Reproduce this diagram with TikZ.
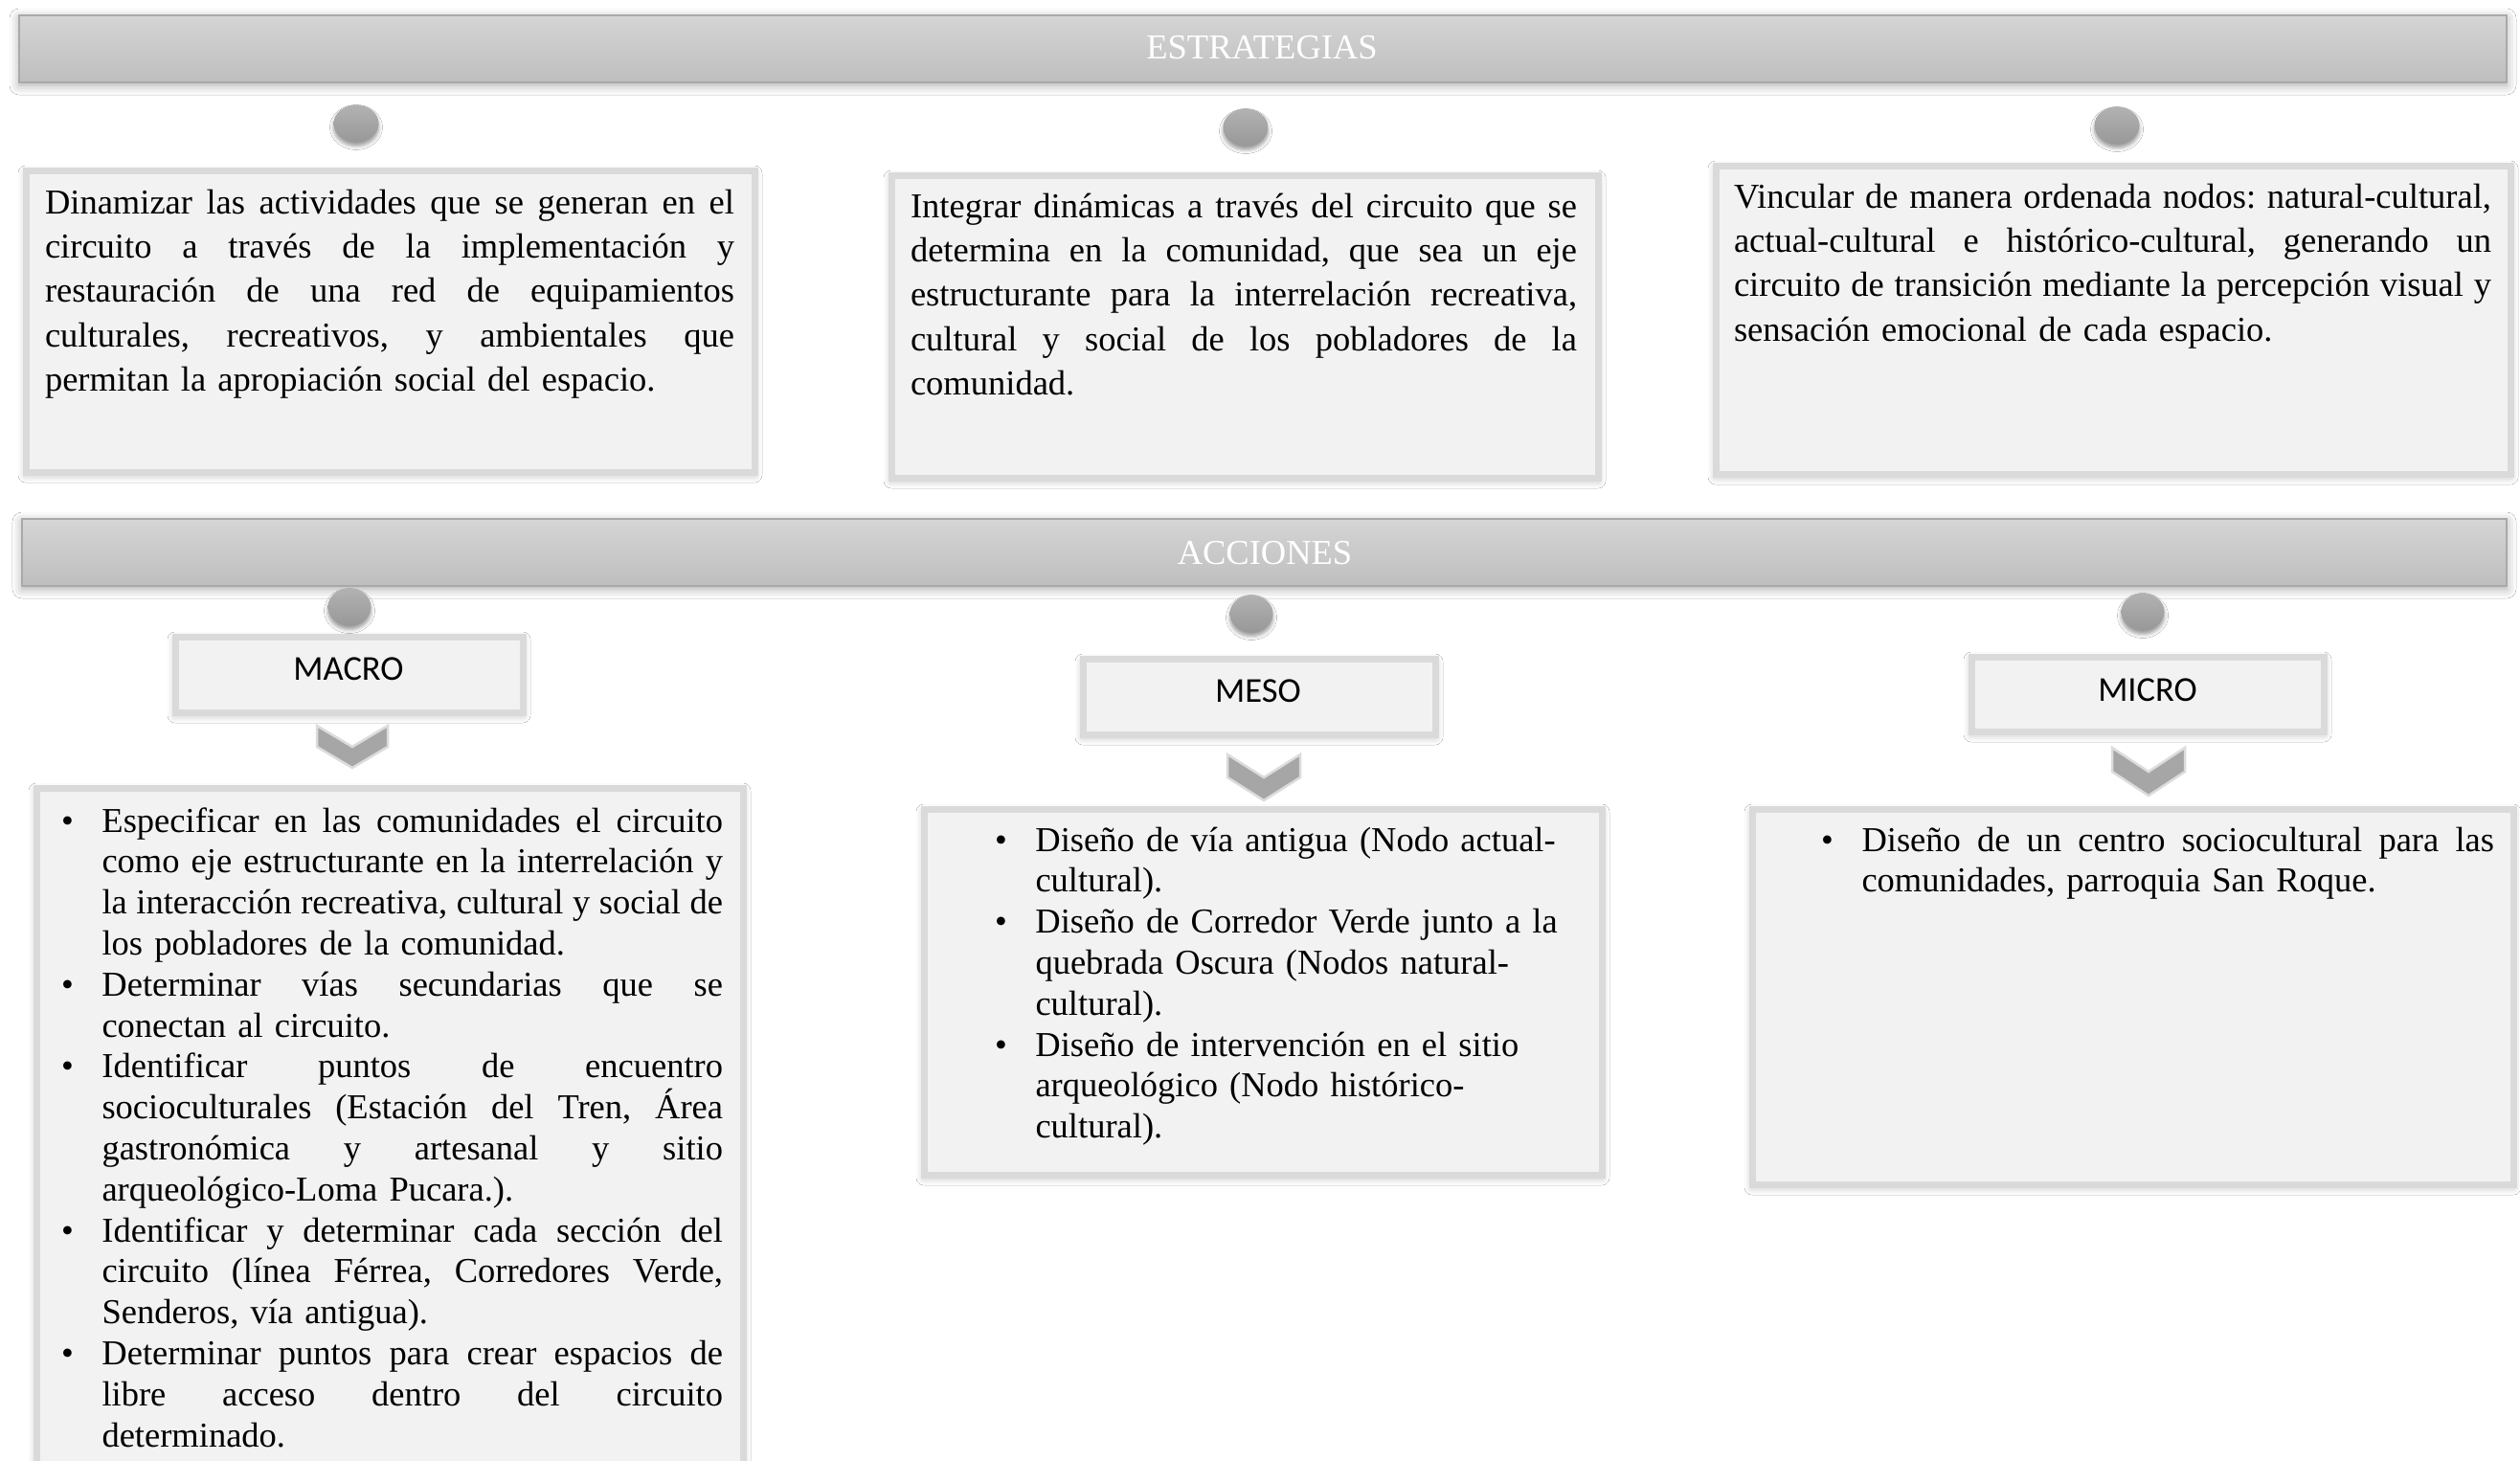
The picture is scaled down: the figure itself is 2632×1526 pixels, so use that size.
\documentclass[tikz,border=0pt]{standalone}
\usepackage{fontspec}
\setmainfont{Liberation Serif}
\newfontfamily\calib{Carlito}
\usetikzlibrary{shapes.geometric,shadows.blur}
\frenchspacing
\definecolor{boxfill}{HTML}{F2F2F2}
\definecolor{boxedge}{HTML}{DADADA}
\definecolor{bartop}{HTML}{D5D5D5}
\definecolor{barbot}{HTML}{BEBEBE}
\definecolor{baredge}{HTML}{A9A9A9}
\definecolor{dottop}{HTML}{B2B2B2}
\definecolor{dotbot}{HTML}{989898}
\definecolor{chevfill}{HTML}{A6A6A6}
\definecolor{chevedge}{HTML}{DCDCDC}
\newlength\bind
\setlength\bind{42.5pt}
\newcommand\sps{\spaceskip=0.25em plus 1em minus 0.12em\relax}
\newcommand\jL[1]{\leavevmode\hbox to \hsize{\sps #1}}
\newcommand\bJ[1]{\leavevmode\hbox to \bind{•\hss}\hbox to \dimexpr\hsize-\bind\relax{\sps #1}}
\newcommand\bR[1]{\leavevmode\hbox to \bind{•\hss}#1}
\newcommand\cJ[1]{\leavevmode\hspace*{\bind}\hbox to \dimexpr\hsize-\bind\relax{\sps #1}}
\newcommand\cR[1]{\leavevmode\hspace*{\bind}#1}
\tikzset{
  bar/.style={rectangle, anchor=north west, inner sep=0, outer sep=0,
    top color=bartop, bottom color=barbot, draw=baredge, line width=2pt,
    blur shadow={shadow xshift=0pt, shadow yshift=-3pt, shadow blur radius=10pt, shadow opacity=35}},
  htext/.style={anchor=base, inner sep=0, text=white, font=\fontsize{36.5}{44}\selectfont},
  sbox/.style={rectangle, anchor=north west, inner sep=0, outer sep=0,
    fill=boxfill, draw=boxedge, line width=7pt,
    blur shadow={shadow xshift=0pt, shadow yshift=-3pt, shadow blur radius=8pt, shadow opacity=30}},
  dot/.style={ellipse, inner sep=0, outer sep=0, minimum width=47pt, minimum height=39pt,
    top color=dottop, bottom color=dotbot,
    blur shadow={shadow xshift=0pt, shadow yshift=-4pt, shadow blur radius=4pt, shadow opacity=40}},
  stext/.style={anchor=base west, inner sep=0, outer sep=0, align=left,
    font=\fontsize{36.5}{46.4}\selectfont},
  ltext/.style={anchor=base west, inner sep=0, outer sep=0, align=left,
    font=\fontsize{36.5}{42.8}\selectfont},
  ttext/.style={anchor=base, inner sep=0, font=\calib\fontsize{36.5}{40}\selectfont},
  chev/.style={fill=chevfill, draw=chevedge, line width=2.5pt, line join=miter}
}
\begin{document}
\begin{tikzpicture}[x=1pt, y=-1pt]
\useasboundingbox (0,0) rectangle (2632,1526);
\clip (0,0) rectangle (2632,1526);
\fill[white] (0,0) rectangle (2632,1526);

% header bars
\node[bar, minimum width=2598pt, minimum height=70pt] (b1) at (20,16) {};
\node[htext] (h1) at (1318,61) {ESTRATEGIAS};
\node[bar, minimum width=2595pt, minimum height=70pt] (b2) at (23,542) {};
\node[htext] (h2) at (1321,589) {ACCIONES};

% strategy dots
\node[dot] (e1) at (372,129) {};
\node[dot] (e2) at (1301,133) {};
\node[dot] (e3) at (2211,131) {};

% strategy boxes
\node[sbox, minimum width=761pt, minimum height=315pt] (s1) at (27,178) {};
\node[sbox, minimum width=738pt, minimum height=316pt] (s2) at (931,183) {};
\node[sbox, minimum width=830pt, minimum height=322pt] (s3) at (1792,173) {};

\node[stext, text width=720pt] (t1) at (47,223) {%
\jL{Dinamizar las actividades que se generan en el}\\
\jL{circuito a través de la implementación y}\\
\jL{restauración de una red de equipamientos}\\
\jL{culturales, recreativos, y ambientales que}\\
permitan la apropiación social del espacio.};

\node[stext, text width=696pt] (t2) at (951,227) {%
\jL{Integrar dinámicas a través del circuito que se}\\
\jL{determina en la comunidad, que sea un eje}\\
\jL{estructurante para la interrelación recreativa,}\\
\jL{cultural y social de los pobladores de la}\\
comunidad.};

\node[stext, text width=791pt] (t3) at (1811,217) {%
\jL{Vincular de manera ordenada nodos: natural-cultural,}\\
\jL{actual-cultural e histórico-cultural, generando un}\\
\jL{circuito de transición mediante la percepción visual y}\\
sensación emocional de cada espacio.};

% action dots
\node[dot, minimum width=45pt] (a1) at (365,634) {};
\node[dot, minimum width=45pt] (a2) at (1307,641) {};
\node[dot, minimum width=45pt] (a3) at (2238,639) {};

% level boxes
\node[sbox, minimum width=363pt, minimum height=79pt] (mac) at (183,665) {};
\node[ttext] (macT) at (364,710) {MACRO};
\node[sbox, minimum width=368pt, minimum height=79pt] (mes) at (1131,688) {};
\node[ttext] (mesT) at (1314,733) {MESO};
\node[sbox, minimum width=368pt, minimum height=78pt] (mic) at (2059,686) {};
\node[ttext] (micT) at (2243,732) {MICRO};

% chevrons
\draw[chev] (331,758) -- (368,780) -- (405,758) -- (405,780) -- (368,802) -- (331,780) -- cycle;
\draw[chev] (1282,788) -- (1320,812) -- (1358,788) -- (1358,812) -- (1320,836) -- (1282,812) -- cycle;
\draw[chev] (2206,781) -- (2244,806) -- (2282,781) -- (2282,806) -- (2244,831) -- (2206,806) -- cycle;

% content boxes
\node[sbox, minimum width=738pt, minimum height=740pt] (cmac) at (38,823) {};
\node[sbox, minimum width=708pt, minimum height=382pt] (cmes) at (965,845) {};
\node[sbox, minimum width=795pt, minimum height=392pt] (cmic) at (1830,845) {};

\node[ltext, text width=691pt] (l1) at (64,869) {%
\bJ{Especificar en las comunidades el circuito}\\
\cJ{como eje estructurante en la interrelación y}\\
\cJ{la interacción recreativa, cultural y social de}\\
\cR{los pobladores de la comunidad.}\\
\bJ{Determinar vías secundarias que se}\\
\cR{conectan al circuito.}\\
\bJ{Identificar puntos de encuentro}\\
\cJ{socioculturales (Estación del Tren, Área}\\
\cJ{gastronómica y artesanal y sitio}\\
\cR{arqueológico-Loma Pucara.).}\\
\bJ{Identificar y determinar cada sección del}\\
\cJ{circuito (línea Férrea, Corredores Verde,}\\
\cR{Senderos, vía antigua).}\\
\bJ{Determinar puntos para crear espacios de}\\
\cJ{libre acceso dentro del circuito}\\
\cR{determinado.}};

\node[ltext, text width=600pt] (l2) at (1039,889) {%
\bR{Diseño de vía antigua (Nodo actual-}\\
\cR{cultural).}\\
\bR{Diseño de Corredor Verde junto a la}\\
\cR{quebrada Oscura (Nodos natural-}\\
\cR{cultural).}\\
\bR{Diseño de intervención en el sitio}\\
\cR{arqueológico (Nodo histórico-}\\
\cR{cultural).}};

\node[ltext, text width=703pt] (l3) at (1902,889) {%
\bJ{Diseño de un centro sociocultural para las}\\
\cR{comunidades, parroquia San Roque.}};
\end{tikzpicture}
\end{document}
